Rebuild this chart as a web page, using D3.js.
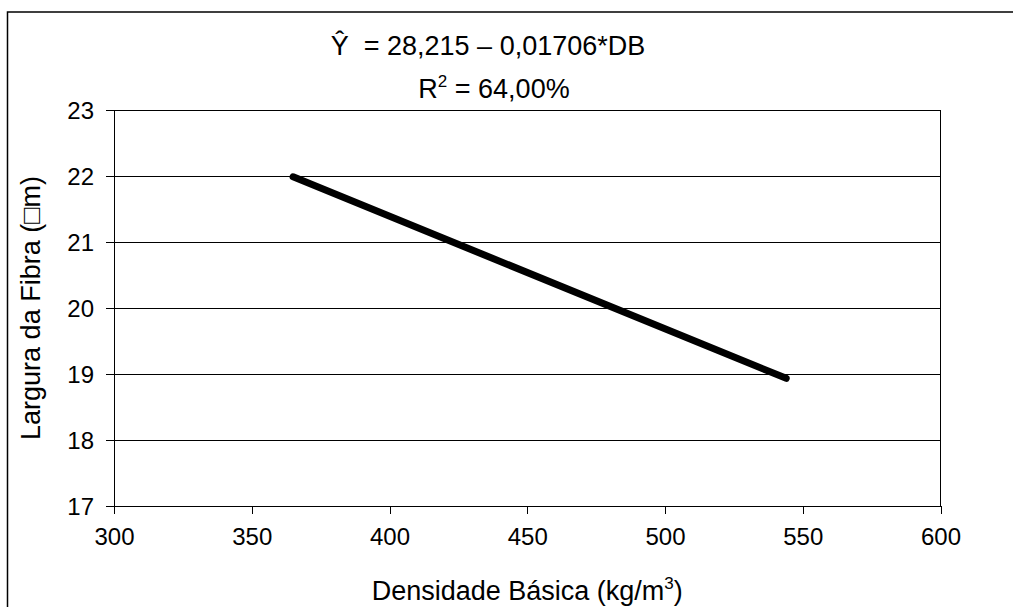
<!DOCTYPE html>
<html>
<head>
<meta charset="utf-8">
<script src="https://cdn.jsdelivr.net/npm/d3@7"></script>
<style>
  html, body { margin: 0; padding: 0; background: #fff; }
  svg { display: block; font-family: "Liberation Sans", Arial, sans-serif; }
</style>
</head>
<body>
<svg id="chart" width="1013" height="607"></svg>
<script>
// Fitted regression line: fibre width vs basic density
const densityTicks = [300, 350, 400, 450, 500, 550, 600];
const widthTicks = [17, 18, 19, 20, 21, 22, 23];
const lineDensity = [365, 544];          // kg/m3, range of the fitted line
const lineWidth = [21.988, 18.934];      // fibre width at those densities
const equationText = "Ŷ\u00a0 = 28,215 – 0,01706*DB";
const r2Value = "64,00%";
const xTitle = "Densidade Básica (kg/m";
const yTitle = "Largura da Fibra (□m)";

const svg = d3.select("#chart");
const plot = { left: 114, right: 940.5, top: 110, bottom: 506 };

const x = d3.scaleLinear().domain([300, 600]).range([plot.left, plot.right]);
const y = d3.scaleLinear().domain([17, 23]).range([plot.bottom, plot.top]);

// outer frame
svg.append("rect")
  .attr("x", 7.5).attr("y", 12).attr("width", 1020).attr("height", 620)
  .attr("fill", "none").attr("stroke", "#000").attr("stroke-width", 1.5);

// horizontal gridlines
svg.append("g").selectAll("line")
  .data(widthTicks.filter(v => v > 17 && v < 23))
  .join("line")
  .attr("x1", plot.left).attr("x2", plot.right)
  .attr("y1", d => y(d)).attr("y2", d => y(d))
  .attr("stroke", "#000").attr("stroke-width", 1)
  .attr("shape-rendering", "crispEdges");

// plot border
svg.append("rect")
  .attr("x", plot.left).attr("y", plot.top)
  .attr("width", plot.right - plot.left).attr("height", plot.bottom - plot.top)
  .attr("fill", "none").attr("stroke", "#000").attr("stroke-width", 1)
  .attr("shape-rendering", "crispEdges");

// y axis
const yAxis = d3.axisLeft(y).tickValues(widthTicks).tickSize(8).tickPadding(12)
  .tickFormat(d3.format("d"));
const gy = svg.append("g").attr("transform", `translate(${plot.left},0)`).call(yAxis);
gy.select(".domain").remove();
gy.selectAll(".tick line").attr("stroke", "#000").attr("shape-rendering", "crispEdges");
gy.selectAll(".tick text")
  .attr("font-size", 24).attr("font-family", "Liberation Sans, Arial, sans-serif")
  .attr("fill", "#000").attr("dy", "0.36em");

// x axis
const xAxis = d3.axisBottom(x).tickValues(densityTicks).tickSize(8).tickPadding(10)
  .tickFormat(d3.format("d"));
const gx = svg.append("g").attr("transform", `translate(0,${plot.bottom})`).call(xAxis);
gx.select(".domain").remove();
gx.selectAll(".tick line").attr("stroke", "#000").attr("shape-rendering", "crispEdges");
gx.selectAll(".tick text")
  .attr("font-size", 24).attr("font-family", "Liberation Sans, Arial, sans-serif")
  .attr("fill", "#000").attr("dy", "0.86em");

// regression line
const pts = lineDensity.map((d, i) => [d, lineWidth[i]]);
svg.append("path")
  .datum(pts)
  .attr("d", d3.line().x(d => x(d[0])).y(d => y(d[1])))
  .attr("fill", "none").attr("stroke", "#000")
  .attr("stroke-width", 7).attr("stroke-linecap", "round");

// equation
svg.append("text")
  .attr("x", 488).attr("y", 55)
  .attr("text-anchor", "middle").attr("font-size", 27).attr("fill", "#000")
  .text(equationText);

const r2 = svg.append("text")
  .attr("x", 494).attr("y", 98)
  .attr("text-anchor", "middle").attr("font-size", 27).attr("fill", "#000");
r2.append("tspan").text("R");
r2.append("tspan").attr("font-size", 17).attr("dy", -11).text("2");
r2.append("tspan").attr("dy", 11).text(" = " + r2Value);

// x title
const xt = svg.append("text")
  .attr("x", (plot.left + plot.right) / 2).attr("y", 600)
  .attr("text-anchor", "middle").attr("font-size", 27).attr("fill", "#000");
xt.append("tspan").text(xTitle);
xt.append("tspan").attr("font-size", 17).attr("dy", -11).text("3");
xt.append("tspan").attr("dy", 11).text(")");

// y title
svg.append("text")
  .attr("transform", `translate(40,${(plot.top + plot.bottom) / 2}) rotate(-90)`)
  .attr("text-anchor", "middle").attr("font-size", 27).attr("fill", "#000")
  .text(yTitle);
</script>
</body>
</html>
